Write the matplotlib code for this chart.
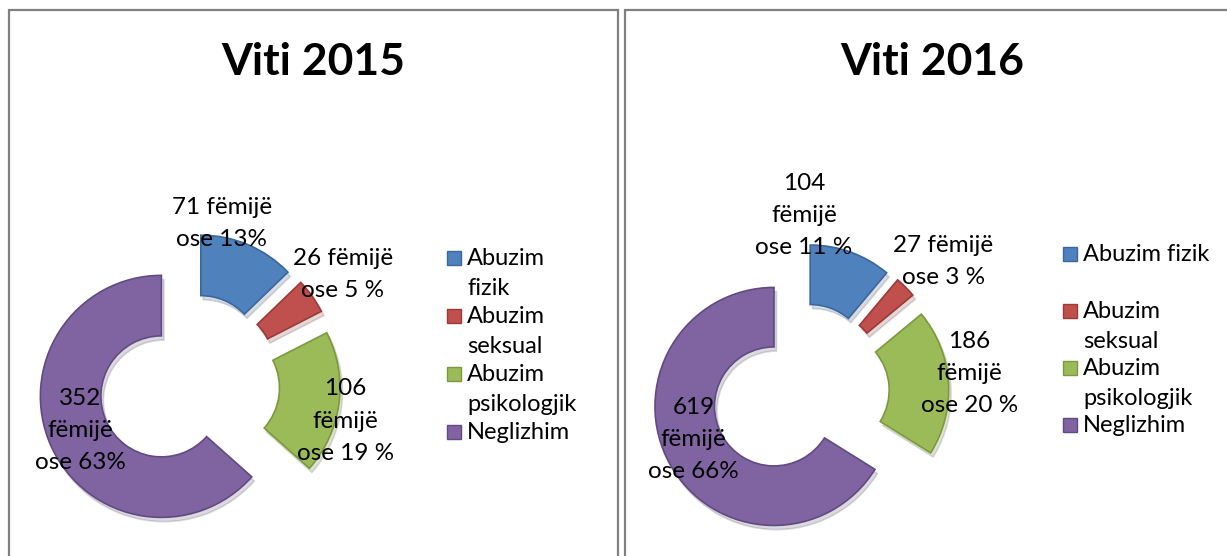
import textwrap
import matplotlib.pyplot as plt
from matplotlib.patches import Rectangle
import numpy as np

plt.rcParams['font.family'] = ['Lato', 'DejaVu Sans']

# data
categories = ['Abuzim fizik', 'Abuzim seksual', 'Abuzim psikologjik', 'Neglizhim']
titles = ['Viti 2015', 'Viti 2016']
counts_2015 = [71, 26, 106, 352]
counts_2016 = [104, 27, 186, 619]
labels_2015 = ['71 fëmijë\nose 13%', '26 fëmijë\nose 5 %', '106\nfëmijë\nose 19 %', '352\nfëmijë\nose 63%']
labels_2016 = ['104\nfëmijë\nose 11 %', '27 fëmijë\nose 3 %', '186\nfëmijë\nose 20 %', '619\nfëmijë\nose 66%']

colors = ['#4F81BD', '#C0504D', '#9BBB59', '#8064A2']
edges = ['#3A679E', '#9B3A37', '#7A9A3C', '#604A82']

W, H = 1227, 556
fig = plt.figure(figsize=(W / 100, H / 100), dpi=100)

# layout of each panel (pixels)
panels = [
    dict(vals=counts_2015, labels=labels_2015, title=titles[0], title_x=313,
         cx=189, cy=384, R=121, lab_r=[1.35, 1.56, 1.33, 0.98], lab_da=[11.5, 0, -6, -1],
         leg_x=447, leg_y=258, slot=58, wrap=10),
    dict(vals=counts_2016, labels=labels_2016, title=titles[1], title_x=932,
         cx=800, cy=392, R=119, lab_r=[1.48, 1.63, 1.43, 0.98], lab_da=[18.7, -2.5, 2.4, -5],
         leg_x=1063, leg_y=254, slot=57, wrap=12),
]

# panel borders
fig.add_artist(Rectangle((8.5 / W, -0.1), 609 / W, (H - 10) / H + 0.1, transform=fig.transFigure,
                         fill=False, edgecolor='#808080', lw=1.6))
fig.add_artist(Rectangle((625 / W, -0.1), 620 / W, (H - 10) / H + 0.1, transform=fig.transFigure,
                         fill=False, edgecolor='#808080', lw=1.6))

for p in panels:
    S = 3.4 * p['R']
    ax = fig.add_axes([(p['cx'] - S / 2) / W, (H - p['cy'] - S / 2) / H, S / W, S / H])
    wedges, _ = ax.pie(p['vals'], startangle=90, counterclock=False, colors=colors,
                       explode=[0.25] * 4, radius=1,
                       wedgeprops=dict(width=0.5, linewidth=1.2),
                       shadow=dict(ox=0.015, oy=-0.025, shade=0.5, alpha=0.18))
    for w, ec in zip(wedges, edges):
        w.set_edgecolor(ec)
    ax.set_xlim(-1.7, 1.7)
    ax.set_ylim(-1.7, 1.7)
    ax.axis('off')

    for w, txt, r, da in zip(wedges, p['labels'], p['lab_r'], p['lab_da']):
        ang = np.deg2rad((w.theta1 + w.theta2) / 2 + da)
        ax.text(r * np.cos(ang), r * np.sin(ang), txt, ha='center', va='center',
                fontsize=17.5, linespacing=1.65, color='black')

    fig.text(p['title_x'] / W, 1 - 62 / H, p['title'], ha='center', va='center',
             fontsize=32, fontweight='bold')

    # legend
    y = p['leg_y']
    for name, c, ec in zip(categories, colors, edges):
        fig.add_artist(Rectangle((p['leg_x'] / W, 1 - (y + 7) / H), 14 / W, 14 / H,
                                 transform=fig.transFigure, facecolor=c, edgecolor=ec, lw=1))
        fig.text((p['leg_x'] + 20) / W, 1 - (y - 10) / H,
                 textwrap.fill(name, p['wrap'], break_long_words=False),
                 ha='left', va='top', fontsize=17, linespacing=1.55)
        y += p['slot']

fig.savefig('out.png', dpi=100, facecolor='white')
